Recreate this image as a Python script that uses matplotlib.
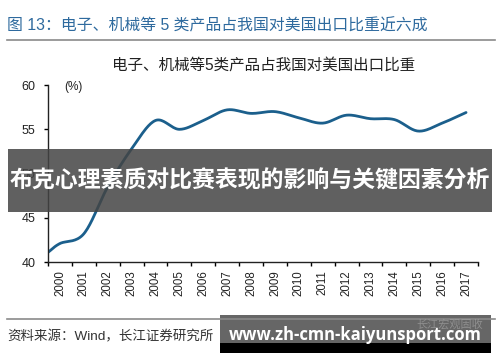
import numpy as np
import matplotlib.pyplot as plt
from matplotlib.patches import Rectangle
from matplotlib.lines import Line2D

plt.rcParams['font.family'] = ['Liberation Sans', 'Noto Sans CJK SC', 'DejaVu Sans']

# data (share of China's exports to the US, %)
years = [str(y) for y in range(2000, 2018)]
share = [42.1, 43.2, 48.5, 52.8, 56.0, 55.0, 56.0, 57.2, 56.8, 57.0,
         56.3, 55.7, 56.6, 56.2, 56.1, 54.8, 55.7, 56.9]
start_value = 41.1  # where the line meets the y axis

header = "图 13：电子、机械等 5 类产品占我国对美国出口比重近六成"
chart_title = "电子、机械等5类产品占我国对美国出口比重"
source = "资料来源：Wind，长江证券研究所"
banner = "布克心理素质对比赛表现的影响与关键因素分析"
site = "www.zh-cmn-kaiyunsport.com"


# smooth curve through the points (Catmull-Rom), only for drawing
def smooth(x, y, n=20):
    x = np.asarray(x, float)
    y = np.asarray(y, float)
    px = np.concatenate([[2 * x[0] - x[1]], x, [2 * x[-1] - x[-2]]])
    py = np.concatenate([[2 * y[0] - y[1]], y, [2 * y[-1] - y[-2]]])
    xs, ys = [], []
    t = np.linspace(0, 1, n, endpoint=False)
    for i in range(1, len(px) - 2):
        for p, out in ((px, xs), (py, ys)):
            p0, p1, p2, p3 = p[i - 1], p[i], p[i + 1], p[i + 2]
            out.extend(0.5 * (2 * p1 + (-p0 + p2) * t
                              + (2 * p0 - 5 * p1 + 4 * p2 - p3) * t ** 2
                              + (-p0 + 3 * p1 - 3 * p2 + p3) * t ** 3))
    xs.append(x[-1])
    ys.append(y[-1])
    return np.array(xs), np.array(ys)


fig = plt.figure(figsize=(5.0, 3.62), dpi=100)
ax = fig.add_axes([0.096, 0.276, 0.86, 0.489])

xpos = np.arange(len(years))
sx, sy = smooth(np.concatenate([[-0.5], xpos]), [start_value] + share)
ax.plot(sx, sy, color='#1b5f8c', lw=2.0, solid_capstyle='round')

ax.set_xlim(-0.5, len(years) - 0.5)
ax.set_ylim(40, 60)
ax.set_yticks([40, 45, 50, 55, 60])
ax.set_xticks(np.arange(-0.5, len(years), 1.0))
ax.set_xticklabels([])
ax.set_xticks(xpos, minor=True)
ax.set_xticklabels(years, minor=True, rotation=90, fontsize=8.3, color='#222222')
ax.tick_params(axis='x', which='minor', length=0, pad=6)
ax.tick_params(axis='x', which='major', length=3, width=1, direction='out')
ax.tick_params(axis='y', length=3, width=1, direction='out', labelsize=9,
               labelcolor='#222222', pad=6)
for s in ['top', 'right']:
    ax.spines[s].set_visible(False)
for s in ['left', 'bottom']:
    ax.spines[s].set_linewidth(1.0)
    ax.spines[s].set_color('#222222')

fig.text(0.146, 0.76, "(%)", fontsize=8.5, color='#222222', ha='center', va='center')
fig.text(0.528, 0.82, chart_title, fontsize=11.2, color='#222222', ha='center', va='center')
fig.text(0.014, 0.93, header, fontsize=11.4, color='#2e6a9e', ha='left', va='center')
fig.add_artist(Line2D([0.014, 0.99], [0.889, 0.889], color='#8a8a8a', lw=1.2))
fig.add_artist(Line2D([0.014, 0.99], [0.119, 0.119], color='#8a8a8a', lw=1.2))
fig.text(0.014, 0.069, source, fontsize=9.7, color='#333333', ha='left', va='center')

# overlays seen on the picture
fig.add_artist(Rectangle((0.016, 0.414), 0.968, 0.174, transform=fig.transFigure,
                         facecolor='#444444', alpha=0.85, edgecolor='none'))
fig.text(0.5, 0.5, banner, fontsize=16.5, fontweight='bold', color='white',
         ha='center', va='center')
fig.add_artist(Rectangle((0.44, 0.052), 0.542, 0.078, transform=fig.transFigure,
                         facecolor='#555555', alpha=0.9, edgecolor='none'))
fig.add_artist(Rectangle((0.44, 0.025), 0.542, 0.028, transform=fig.transFigure,
                         facecolor='black', edgecolor='none'))
fig.text(0.9, 0.104, "长江宏观固收", fontsize=8, color='#aaaaaa', ha='center', va='center',
         alpha=0.6)
fig.text(0.71, 0.074, site, fontsize=12, fontweight='bold', color='white',
         ha='center', va='center', family=['Open Sans', 'DejaVu Sans'])

fig.savefig("out.png", dpi=100)
